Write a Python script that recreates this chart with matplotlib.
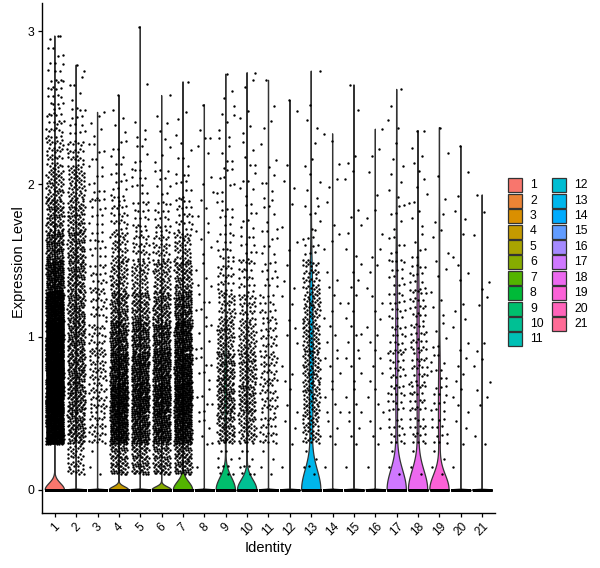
import numpy as np
import matplotlib
matplotlib.use("Agg")
import matplotlib.pyplot as plt
from matplotlib.patches import Rectangle

plt.rcParams['font.family'] = ['Liberation Sans', 'DejaVu Sans']

# -----------------------
# Data
# -----------------------
clusters = [str(i) for i in range(1, 22)]

# nonzero cells per 0.2-wide expression bin (bins centred on these levels)
bin_centres = [0.2, 0.4, 0.6, 0.8, 1.0, 1.2, 1.4, 1.6, 1.8, 2.0, 2.2, 2.4, 2.6, 2.8, 3.0]
nonzero_counts = [
    [0, 430, 520, 520, 480, 370, 200, 120, 80, 55, 36, 26, 18, 10, 3],   # 1
    [40, 95, 105, 105, 100, 95, 88, 80, 65, 50, 30, 14, 5, 2, 0],        # 2
    [3, 30, 35, 35, 30, 25, 20, 14, 12, 10, 8, 5, 0, 0, 0],              # 3
    [80, 220, 240, 190, 140, 95, 60, 40, 25, 13, 8, 4, 1, 0, 0],         # 4
    [80, 160, 190, 165, 130, 85, 50, 30, 18, 10, 7, 3, 1, 0, 1],         # 5
    [80, 170, 195, 170, 135, 95, 60, 34, 17, 9, 4, 3, 1, 0, 0],          # 6
    [90, 215, 255, 220, 185, 130, 78, 43, 22, 10, 5, 3, 1, 0, 0],        # 7
    [1, 6, 7, 7, 6, 6, 5, 5, 4, 3, 3, 2, 1, 0, 0],                       # 8
    [10, 70, 90, 80, 60, 40, 25, 15, 10, 8, 6, 5, 3, 1, 0],              # 9
    [10, 55, 70, 65, 50, 35, 20, 12, 8, 6, 5, 4, 2, 1, 0],               # 10
    [4, 25, 30, 30, 25, 18, 12, 8, 6, 5, 3, 2, 2, 0, 0],                 # 11
    [1, 3, 3, 3, 3, 3, 3, 2, 2, 2, 1, 1, 1, 0, 0],                       # 12
    [5, 45, 55, 55, 55, 50, 35, 12, 6, 4, 3, 2, 1, 1, 0],                # 13
    [1, 4, 5, 5, 4, 4, 3, 3, 2, 2, 2, 1, 0, 0, 0],                       # 14
    [1, 4, 5, 5, 5, 4, 4, 3, 3, 2, 2, 1, 1, 0, 0],                       # 15
    [1, 4, 4, 4, 4, 4, 3, 3, 2, 2, 2, 1, 0, 0, 0],                       # 16
    [3, 15, 18, 18, 18, 16, 12, 8, 6, 4, 3, 2, 2, 0, 0],                 # 17
    [3, 18, 22, 22, 22, 20, 15, 6, 5, 4, 3, 2, 0, 0, 0],                 # 18
    [4, 12, 12, 9, 5, 4, 3, 3, 2, 2, 1, 1, 0, 0, 0],                     # 19
    [1, 3, 4, 4, 3, 3, 3, 2, 2, 2, 1, 0, 0, 0, 0],                       # 20
    [0, 2, 3, 3, 2, 2, 2, 1, 1, 1, 0, 0, 0, 0, 0],                       # 21
]
# cells with zero expression per cluster
zero_counts = [7800, 6000, 1500, 3250, 6000, 2840, 2980, 600, 950, 880, 1200,
               500, 450, 400, 400, 400, 260, 290, 130, 400, 300]
# highest expression value per cluster (top of each violin)
max_expr = [2.97, 2.78, 2.47, 2.58, 3.03, 2.58, 2.67, 2.52, 2.72, 2.73, 2.68,
            2.55, 2.74, 2.33, 2.65, 2.36, 2.62, 2.35, 2.37, 2.25, 1.93]


# -----------------------
# helpers
# -----------------------
def hue_colours(n):
    # ggplot2 default hue palette: hcl(h, c=100, l=65)
    hues = np.linspace(15, 375, n + 1)[:n]
    L, C = 65.0, 100.0
    xn, yn, zn = 95.047, 100.0, 108.883
    un = 4 * xn / (xn + 15 * yn + 3 * zn)
    vn = 9 * yn / (xn + 15 * yn + 3 * zn)
    m = np.array([[3.240479, -1.537150, -0.498535],
                  [-0.969256, 1.875992, 0.041556],
                  [0.055648, -0.204043, 1.057311]])
    cols = []
    for h in hues:
        u = C * np.cos(np.radians(h))
        v = C * np.sin(np.radians(h))
        Y = yn * ((L + 16) / 116) ** 3
        up = u / (13 * L) + un
        vp = v / (13 * L) + vn
        X = Y * 9 * up / (4 * vp)
        Z = Y * (12 - 3 * up - 20 * vp) / (4 * vp)
        lin = m @ (np.array([X, Y, Z]) / 100.0)
        lin = np.clip(lin, 0, None)
        rgb = np.where(lin > 0.0031308, 1.055 * lin ** (1 / 2.4) - 0.055, 12.92 * lin)
        cols.append(tuple(np.clip(rgb, 0, 1)))
    return cols


def expr_values(counts, vmax):
    top = max(i for i, c in enumerate(counts) if c)
    vals, k0 = [], 0
    for i, c in enumerate(counts):
        if c == 0:
            continue
        lo = bin_centres[i] - 0.1
        hi = vmax if i == top else lo + 0.2
        k = np.arange(k0 + 1, k0 + c + 1)
        frac = (0.5 + 0.7548776662 * k) % 1.0
        if i == top:
            frac[-1] = 1.0
        vals.append(lo + (hi - lo) * frac)
        k0 += c
    return np.concatenate(vals)


def violin(vals, n_zero):
    # gaussian kde, bw.nrd0 like R, trimmed to data range
    data = np.concatenate([np.zeros(n_zero), vals])
    n = len(data)
    q25, q75 = np.percentile(data, [25, 75])
    iqr = q75 - q25
    if iqr > 0:
        bw = 0.9 * min(data.std(ddof=1), iqr / 1.34) * n ** -0.2
    else:
        bw = 1e-6
    grid = np.linspace(0, data.max(), 512)
    dens = n_zero * np.exp(-0.5 * (grid / bw) ** 2)
    dens += np.exp(-0.5 * ((grid[:, None] - vals[None, :]) / bw) ** 2).sum(axis=1)
    return grid, dens / dens.max()


colours = hue_colours(len(clusters))

# -----------------------
# Plot
# -----------------------
fig = plt.figure(figsize=(6, 5.68), dpi=100)
ax = fig.add_axes([42 / 600, 55 / 568, 453 / 600, 510 / 568])

for i, name in enumerate(clusters):
    pos = i + 1
    vals = expr_values(nonzero_counts[i], max_expr[i])
    grid, d = violin(vals, zero_counts[i])
    xs = np.concatenate([pos - 0.45 * d, (pos + 0.45 * d)[::-1]])
    ys = np.concatenate([grid, grid[::-1]])
    ax.fill(xs, ys, facecolor=colours[i], edgecolor='#333333', lw=0.9, zorder=1)

    # jittered cells
    k = np.arange(1, len(vals) + 1)
    jx = (0.5 + 0.5698402910 * k) % 1.0
    kz = np.arange(1, zero_counts[i] + 1)
    jz = (0.5 + 0.6180339887 * kz) % 1.0
    px = np.concatenate([pos + (jx - 0.5) * 0.82, pos + (jz - 0.5) * 0.82])
    py = np.concatenate([vals, np.zeros(zero_counts[i])])
    ax.scatter(px, py, s=3.0, c='black', marker='o', linewidths=0, zorder=2)

ax.set_xlim(0.4, 21.6)
ax.set_ylim(-0.152, 3.185)
ax.set_xticks(range(1, 22))
ax.set_xticklabels(clusters, rotation=45, ha='center', va='top', fontsize=8.6)
ax.set_yticks([0, 1, 2, 3])
ax.set_yticklabels(['0', '1', '2', '3'], fontsize=8.8)
ax.tick_params(length=3, width=0.9, color='black', pad=2.5)
for s in ['top', 'right']:
    ax.spines[s].set_visible(False)
for s in ['left', 'bottom']:
    ax.spines[s].set_linewidth(1.0)

fig.text(19 / 600, 1 - 262 / 568, 'Expression Level', rotation=90,
         ha='center', va='center', fontsize=10.5)
fig.text(268 / 600, 1 - 548 / 568, 'Identity', ha='center', va='center', fontsize=10.5)

# legend, two columns like ggplot
for i, name in enumerate(clusters):
    col, row = divmod(i, 11)
    x0 = 508 + col * 44
    y0 = 178.3 + row * 15.4
    fig.add_artist(Rectangle((x0 / 600, 1 - (y0 + 14) / 568), 14 / 600, 14 / 568,
                             transform=fig.transFigure, facecolor=colours[i],
                             edgecolor='#333333', lw=0.9))
    fig.text((x0 + 22) / 600, 1 - (y0 + 7) / 568, name, ha='left', va='center',
             fontsize=8.8)

fig.savefig('out.png', dpi=100)
